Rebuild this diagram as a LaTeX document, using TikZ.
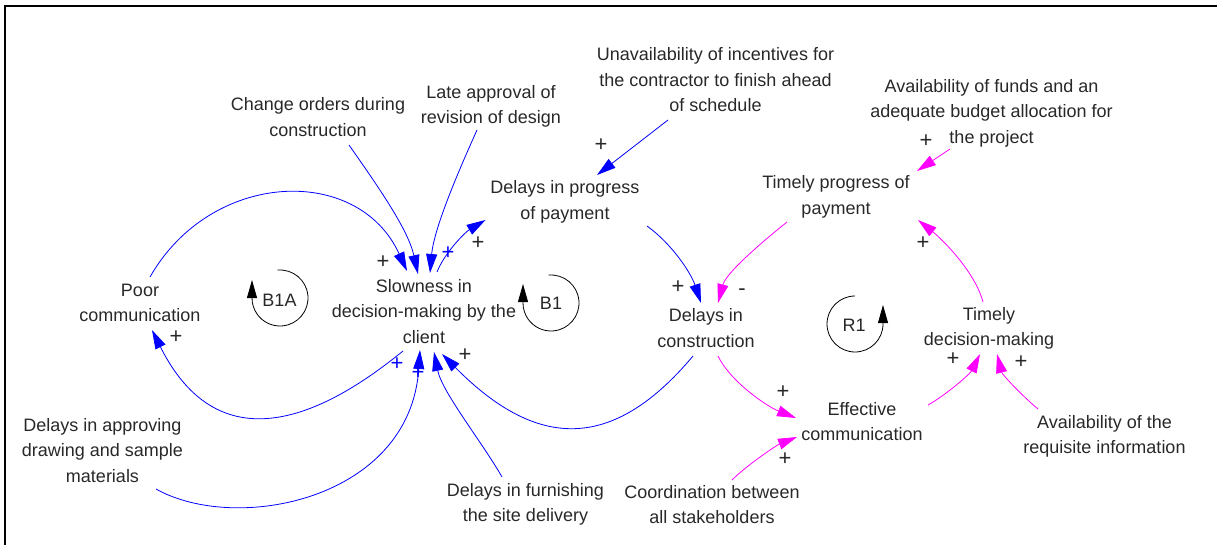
\documentclass[tikz,border=0pt]{standalone}
\usepackage{fontspec}
\setmainfont{Liberation Sans}
\usetikzlibrary{arrows.meta}
\definecolor{txtc}{RGB}{40,40,40}
\definecolor{vblue}{RGB}{0,0,255}
\definecolor{vmag}{RGB}{255,0,255}
\begin{document}
\begin{tikzpicture}[x=1pt,y=-1pt,
  txt/.style={align=center, inner sep=0pt, text=txtc, font=\fontsize{18}{25.5}\selectfont,
    execute at begin node=\strut, execute at end node=\strut},
  lbl/.style={inner sep=0pt, text=txtc, font=\fontsize{18}{20}\selectfont},
  sgn/.style={inner sep=0pt, text=txtc, font=\fontsize{22}{24}\selectfont},
  bsgn/.style={sgn, text=vblue},
  blink/.style={draw=vblue, line width=0.8pt, -{Triangle[length=19pt,width=11pt]}},
  mlink/.style={draw=vmag, line width=0.8pt, -{Triangle[length=19pt,width=11pt]}},
  loopc/.style={draw=black, line width=0.8pt, -{Triangle[length=18pt,width=10pt]}}
]
\useasboundingbox (0,0) rectangle (1217,545);
\draw[line width=2.6pt] (5,545) -- (5,6) -- (1217,6);

% variables
\node[txt] (chg) at (318,121) {Change orders during\\construction};
\node[txt] (late) at (491,108.5) {Late approval of\\revision of design};
\node[txt] (unav) at (715.5,83.5) {Unavailability of incentives for\\the contractor to finish ahead\\of schedule};
\node[txt] (funds) at (991.5,115) {Availability of funds and an\\adequate budget allocation for\\the project};
\node[txt] (dpay) at (565,204) {Delays in progress\\of payment};
\node[txt] (tpay) at (836,199) {Timely progress of\\payment};
\node[txt] (poor) at (140,306.5) {Poor\\communication};
\node[txt] (slow) at (424,315) {Slowness in\\decision-making by the\\client};
\node[txt] (dcon) at (706,332) {Delays in\\construction};
\node[txt] (tdec) at (989,330.5) {Timely\\decision-making};
\node[txt] (eff) at (862,425.5) {Effective\\communication};
\node[txt] (dapp) at (102.5,454) {Delays in approving\\drawing and sample\\materials};
\node[txt] (dfur) at (525.5,506.5) {Delays in furnishing\\the site delivery};
\node[txt] (coord) at (712,508.5) {Coordination between\\all stakeholders};
\node[txt] (req) at (1104.5,438.5) {Availability of the\\requisite information};

% loop labels
\node[lbl] (lb1a) at (279.5,300) {B1A};
\node[lbl] (lb1) at (551,303.5) {B1};
\node[lbl] (lr1) at (854,325.5) {R1};
\draw[loopc] (280,298) ++(-95:28) arc[start angle=-95, end angle=180, radius=28] -- ++(0,-18);
\draw[loopc] (551,303) ++(-95:28) arc[start angle=-95, end angle=180, radius=28] -- ++(0,-19);
\draw[loopc] (855,324) ++(-90:28) arc[start angle=-90, end angle=-360, radius=28] -- ++(0,-19);

% blue links
\draw[blink] ([shift={(10,-29.5)}]poor.center) .. controls +(61,-107) and +(-49,-107) .. ([shift={(-17,-44)}]slow.center);
\draw[blink] ([shift={(31,24)}]chg.center) .. controls +(28,40) and +(-10,-45) .. ([shift={(-6,-41)}]slow.center);
\draw[blink] ([shift={(-14,21.5)}]late.center) .. controls +(-18,40) and +(4,-45) .. ([shift={(6,-42)}]slow.center);
\draw[blink] ([shift={(13,-43)}]slow.center) .. controls +(8,-20) and +(-20,12) .. ([shift={(-79.5,16)}]dpay.center);
\draw[blink] ([shift={(-47.5,36.5)}]unav.center) -- ([shift={(32,-29)}]dpay.center);
\draw[blink] ([shift={(82,22)}]dpay.center) .. controls +(25,18) and +(-10,-30) .. ([shift={(-5,-29)}]dcon.center);
\draw[blink] ([shift={(-21,36)}]slow.center) .. controls +(-59,48) and +(74,148) .. ([shift={(12,23.5)}]poor.center);
\draw[blink] ([shift={(53.5,35)}]dapp.center) .. controls +(80,45) and +(-10,150) .. ([shift={(-4,35)}]slow.center);
\draw[blink] ([shift={(-23.5,-29.5)}]dfur.center) .. controls +(-20,-35) and +(8,40) .. ([shift={(10,37)}]slow.center);
\draw[blink] ([shift={(-13,24)}]dcon.center) .. controls +(-80.5,96) and +(95,96) .. ([shift={(18,39)}]slow.center);

% magenta links
\draw[mlink] ([shift={(-49,23)}]tpay.center) .. controls +(-25,20) and +(8,-30) .. ([shift={(12,-29)}]dcon.center);
\draw[mlink] ([shift={(-41.5,34)}]funds.center) -- ([shift={(81,-28)}]tpay.center);
\draw[mlink] ([shift={(-6,-28.5)}]tdec.center) .. controls +(-8,-30) and +(25,20) .. ([shift={(82,21)}]tpay.center);
\draw[mlink] ([shift={(12,24)}]dcon.center) .. controls +(12,25) and +(-30,-12) .. ([shift={(-66,-7.5)}]eff.center);
\draw[mlink] ([shift={(20,-28.5)}]coord.center) .. controls +(15,-15) and +(-20,8) .. ([shift={(-65,11.5)}]eff.center);
\draw[mlink] ([shift={(66,-20.5)}]eff.center) .. controls +(18,-10) and +(-10,20) .. ([shift={(-9,23.5)}]tdec.center);
\draw[mlink] ([shift={(-66.5,-29.5)}]req.center) .. controls +(-18,-15) and +(5,20) .. ([shift={(8,23.5)}]tdec.center);

% polarity signs
\node[sgn] (p1) at (383,262) {+};
\node[bsgn] (p2) at (448,253) {+};
\node[sgn] (p3) at (478,243) {+};
\node[sgn] (p4) at (601,145) {+};
\node[sgn] (p5) at (678,287) {+};
\node[sgn] (p6) at (742,292) {-};
\node[sgn] (p7) at (926,141) {+};
\node[sgn] (p8) at (923,243) {+};
\node[sgn] (p9) at (176,337) {+};
\node[bsgn] (p10) at (397,364) {+};
\node[bsgn] (p11) at (418,373) {+};
\node[sgn] (p12) at (465,355) {+};
\node[sgn] (p13) at (783,392) {+};
\node[sgn] (p14) at (785,459) {+};
\node[sgn] (p15) at (953,359) {+};
\node[sgn] (p16) at (1021,362) {+};
\end{tikzpicture}
\end{document}
